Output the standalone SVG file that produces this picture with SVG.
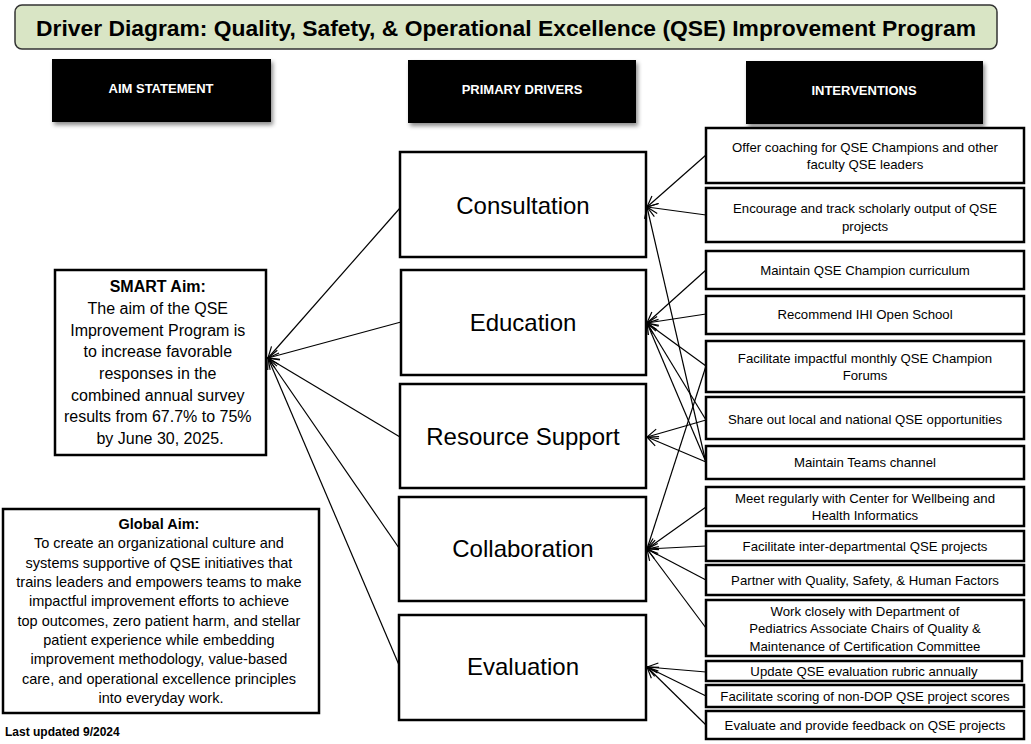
<svg xmlns="http://www.w3.org/2000/svg" width="1031" height="744" viewBox="0 0 1031 744">
<defs>
<style>
text{font-family:"Liberation Sans",Arial,sans-serif;fill:#000}
.title{font-size:22px;font-weight:bold}
.hdr{font-size:13px;font-weight:bold;fill:#fff}
.hbox{fill:#000}
.box{fill:#fff;stroke:#000;stroke-width:2.5}
.drv{font-size:24px}
.iv{font-size:13.2px}
.smart{font-size:16px}
.glob{font-size:14.5px}
.b{font-weight:bold}
.conn line{stroke:#000;stroke-width:1.2;marker-end:url(#arr)}
</style>
<marker id="arr" markerWidth="14" markerHeight="12" refX="12" refY="6" orient="auto" markerUnits="userSpaceOnUse">
<path d="M1,1 L12,6 L1,11" fill="none" stroke="#000" stroke-width="1.2"/>
</marker>
<filter id="sh" x="-10%" y="-10%" width="130%" height="140%">
<feDropShadow dx="2" dy="3" stdDeviation="2" flood-color="#000" flood-opacity="0.45"/>
</filter>
</defs>
<rect width="1031" height="744" fill="#fff"/>

<g id="title">
<rect x="15" y="5" width="982" height="44" rx="7" fill="#d9e5c5" stroke="#333" stroke-width="1.5"/>
<text class="title" x="506" y="36" text-anchor="middle" textLength="940" lengthAdjust="spacingAndGlyphs">Driver Diagram: Quality, Safety, &amp; Operational Excellence (QSE) Improvement Program</text>
</g>

<g id="hdr-aim">
<rect class="hbox" x="52" y="59" width="219" height="63" filter="url(#sh)"/>
<text class="hdr" x="161" y="93" text-anchor="middle">AIM STATEMENT</text>
</g>
<g id="hdr-drivers">
<rect class="hbox" x="408" y="60" width="228" height="63" filter="url(#sh)"/>
<text class="hdr" x="522" y="94" text-anchor="middle">PRIMARY DRIVERS</text>
</g>
<g id="hdr-interventions">
<rect class="hbox" x="746" y="61" width="237" height="63" filter="url(#sh)"/>
<text class="hdr" x="864" y="95" text-anchor="middle">INTERVENTIONS</text>
</g>

<g id="smart-aim">
<rect class="box" x="55" y="270" width="211" height="185"/>
<text class="smart" text-anchor="middle">
<tspan class="b" x="160" y="292">SMART Aim:</tspan>
<tspan x="160" y="314">The aim of the QSE</tspan>
<tspan x="160" y="336">Improvement Program is</tspan>
<tspan x="160" y="357">to increase favorable</tspan>
<tspan x="160" y="379">responses in the</tspan>
<tspan x="160" y="401">combined annual survey</tspan>
<tspan x="160" y="422">results from 67.7% to 75%</tspan>
<tspan x="160" y="444">by June 30, 2025.</tspan>
</text>
</g>

<g id="global-aim">
<rect class="box" x="3" y="509" width="316" height="204"/>
<text class="glob" text-anchor="middle">
<tspan class="b" x="161" y="529">Global Aim:</tspan>
<tspan x="161" y="548">To create an organizational culture and</tspan>
<tspan x="161" y="568">systems supportive of QSE initiatives that</tspan>
<tspan x="161" y="587">trains leaders and empowers teams to make</tspan>
<tspan x="161" y="606">impactful improvement efforts to achieve</tspan>
<tspan x="161" y="626">top outcomes, zero patient harm, and stellar</tspan>
<tspan x="161" y="645">patient experience while embedding</tspan>
<tspan x="161" y="664">improvement methodology, value-based</tspan>
<tspan x="161" y="684">care, and operational excellence principles</tspan>
<tspan x="161" y="703">into everyday work.</tspan>
</text>
</g>

<g id="last-updated">
<text x="5" y="736" font-size="12" font-weight="bold">Last updated 9/2024</text>
</g>

<g id="drv-consultation"><rect class="box" x="400" y="152" width="246" height="105"/><text class="drv" x="523" y="214" text-anchor="middle">Consultation</text></g>
<g id="drv-education"><rect class="box" x="401" y="270" width="245" height="105"/><text class="drv" x="523" y="331" text-anchor="middle">Education</text></g>
<g id="drv-resource"><rect class="box" x="400" y="384" width="246" height="104"/><text class="drv" x="523" y="445" text-anchor="middle">Resource Support</text></g>
<g id="drv-collaboration"><rect class="box" x="399" y="497" width="247" height="104"/><text class="drv" x="523" y="557" text-anchor="middle">Collaboration</text></g>
<g id="drv-evaluation"><rect class="box" x="399" y="615" width="247" height="105"/><text class="drv" x="523" y="675" text-anchor="middle">Evaluation</text></g>

<g id="iv1"><rect class="box" x="706" y="128" width="318" height="55"/><text class="iv" text-anchor="middle"><tspan x="865" y="151.5">Offer coaching for QSE Champions and other</tspan><tspan x="865" y="168.5">faculty QSE leaders</tspan></text></g>
<g id="iv2"><rect class="box" x="706" y="188" width="318" height="54"/><text class="iv" text-anchor="middle"><tspan x="865" y="212.5">Encourage and track scholarly output of QSE</tspan><tspan x="865" y="230.5">projects</tspan></text></g>
<g id="iv3"><rect class="box" x="706" y="251" width="318" height="38"/><text class="iv" x="865" y="274.5" text-anchor="middle">Maintain QSE Champion curriculum</text></g>
<g id="iv4"><rect class="box" x="706" y="296" width="318" height="38"/><text class="iv" x="865" y="318.5" text-anchor="middle">Recommend IHI Open School</text></g>
<g id="iv5"><rect class="box" x="706" y="341" width="318" height="51"/><text class="iv" text-anchor="middle"><tspan x="865" y="362.5">Facilitate impactful monthly QSE Champion</tspan><tspan x="865" y="379.5">Forums</tspan></text></g>
<g id="iv6"><rect class="box" x="706" y="397" width="318" height="42"/><text class="iv" x="865" y="423.5" text-anchor="middle">Share out local and national QSE opportunities</text></g>
<g id="iv7"><rect class="box" x="706" y="446" width="318" height="33"/><text class="iv" x="865" y="466.5" text-anchor="middle">Maintain Teams channel</text></g>
<g id="iv8"><rect class="box" x="706" y="487" width="318" height="39"/><text class="iv" text-anchor="middle"><tspan x="865" y="502.5">Meet regularly with Center for Wellbeing and</tspan><tspan x="865" y="519.5">Health Informatics</tspan></text></g>
<g id="iv9"><rect class="box" x="706" y="531" width="318" height="30"/><text class="iv" x="865" y="550.5" text-anchor="middle">Facilitate inter-departmental QSE projects</text></g>
<g id="iv10"><rect class="box" x="706" y="565" width="318" height="30"/><text class="iv" x="865" y="584.5" text-anchor="middle">Partner with Quality, Safety, &amp; Human Factors</text></g>
<g id="iv11"><rect class="box" x="706" y="600" width="318" height="56"/><text class="iv" text-anchor="middle"><tspan x="865" y="615.5">Work closely with Department of</tspan><tspan x="865" y="632.5">Pediatrics Associate Chairs of Quality &amp;</tspan><tspan x="865" y="650.5">Maintenance of Certification Committee</tspan></text></g>
<g id="iv12"><rect class="box" x="706" y="661" width="316" height="20"/><text class="iv" x="864" y="676" text-anchor="middle">Update QSE evaluation rubric annually</text></g>
<g id="iv13"><rect class="box" x="706" y="685" width="318" height="22"/><text class="iv" x="865" y="700.5" text-anchor="middle">Facilitate scoring of non-DOP QSE project scores</text></g>
<g id="iv14"><rect class="box" x="706" y="711" width="318" height="28"/><text class="iv" x="865" y="729.5" text-anchor="middle">Evaluate and provide feedback on QSE projects</text></g>

<g id="connectors" class="conn">
<line x1="400" y1="208" x2="268" y2="358"/>
<line x1="401" y1="322" x2="268" y2="358"/>
<line x1="400" y1="437" x2="268" y2="358"/>
<line x1="399" y1="548" x2="268" y2="358"/>
<line x1="399" y1="665" x2="268" y2="358"/>

<line x1="706" y1="155" x2="647" y2="207"/>
<line x1="706" y1="215" x2="647" y2="207"/>
<line x1="706" y1="463" x2="647" y2="207"/>

<line x1="706" y1="270" x2="647" y2="323"/>
<line x1="706" y1="314" x2="647" y2="323"/>
<line x1="706" y1="366" x2="647" y2="323"/>
<line x1="706" y1="420" x2="647" y2="323"/>
<line x1="706" y1="462" x2="647" y2="323"/>

<line x1="706" y1="420" x2="647" y2="437"/>
<line x1="706" y1="462" x2="647" y2="437"/>

<line x1="706" y1="366" x2="647" y2="549"/>
<line x1="706" y1="507" x2="647" y2="549"/>
<line x1="706" y1="546" x2="647" y2="549"/>
<line x1="706" y1="580" x2="647" y2="549"/>
<line x1="706" y1="628" x2="647" y2="549"/>

<line x1="706" y1="672" x2="647" y2="667"/>
<line x1="706" y1="696" x2="647" y2="667"/>
<line x1="706" y1="725" x2="647" y2="667"/>
</g>
</svg>
